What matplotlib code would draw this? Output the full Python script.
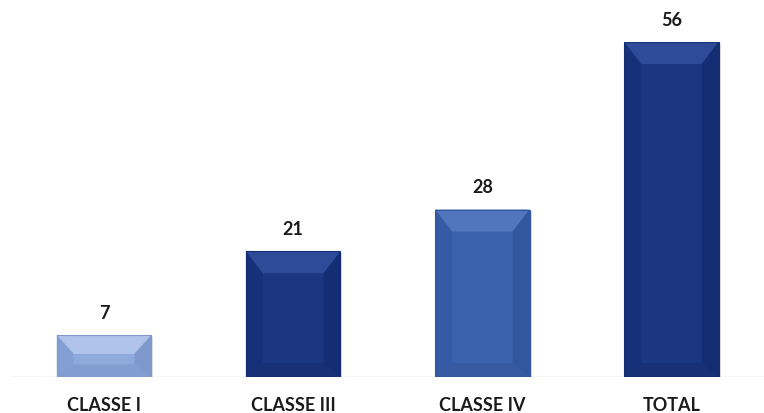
import matplotlib.pyplot as plt
from matplotlib.patches import Polygon

categories = ['CLASSE I', 'CLASSE III', 'CLASSE IV', 'TOTAL']
values = [7, 21, 28, 56]

# (face, top bevel, side bevel, bottom bevel)
palettes = [
    ('#8EA9DB', '#AFC4E8', '#7D99CE', '#819DD2'),
    ('#1C3781', '#2D4B98', '#152D72', '#183076'),
    ('#3B63AD', '#5077BD', '#3157A0', '#3659A2'),
    ('#1C3781', '#2D4B98', '#152D72', '#183076'),
]

W, H, DPI = 764, 414, 100
fig = plt.figure(figsize=(W / DPI, H / DPI), dpi=DPI)
# axes in pixel terms: baseline at y=378, top of 56 at y=43
left_px, right_px = 9.5, 766
base_px, top_px = 378, 43
ax = fig.add_axes([left_px / W, 1 - base_px / H, (right_px - left_px) / W, (base_px - top_px) / H])
ax.set_xlim(-0.5, 3.5)
ax.set_ylim(0, 56)
ax.axis('off')

bar_w = 0.5
x = list(range(len(categories)))

# data units per pixel
px_x = 4.0 / (right_px - left_px)
px_y = 56.0 / (base_px - top_px)

# faint drop shadow
for xi, v in zip(x, values):
    ax.bar(xi + 2 * px_x, v, width=bar_w, bottom=-2 * px_y, color='#000000', alpha=0.12, zorder=1)

bars = ax.bar(x, values, width=bar_w, color=[p[0] for p in palettes], zorder=2)

for b, pal in zip(bars, palettes):
    x0, y0 = b.get_x(), b.get_y()
    x1, y1 = x0 + b.get_width(), y0 + b.get_height()
    bx = 17 * px_x
    by = min(22 * px_y, b.get_height() * 0.45)
    bby = min(14 * px_y, b.get_height() * 0.3)
    # top bevel
    ax.add_patch(Polygon([(x0, y1), (x1, y1), (x1 - bx, y1 - by), (x0 + bx, y1 - by)],
                         closed=True, facecolor=pal[1], edgecolor='none', zorder=3))
    # bottom bevel
    ax.add_patch(Polygon([(x0, y0), (x1, y0), (x1 - bx, y0 + bby), (x0 + bx, y0 + bby)],
                         closed=True, facecolor=pal[3], edgecolor='none', zorder=3))
    # right bevel
    ax.add_patch(Polygon([(x1, y1), (x1, y0), (x1 - bx, y0 + bby), (x1 - bx, y1 - by)],
                         closed=True, facecolor=pal[2], edgecolor='none', zorder=3))
    # left bevel
    ax.add_patch(Polygon([(x0, y1), (x0, y0), (x0 + bx, y0 + bby), (x0 + bx, y1 - by)],
                         closed=True, facecolor=pal[2], edgecolor='none', alpha=0.6, zorder=3))
    # thin outline
    ax.add_patch(Polygon([(x0, y0), (x1, y0), (x1, y1), (x0, y1)], closed=True,
                         facecolor='none', edgecolor=pal[2], lw=0.8, zorder=4))

    ax.annotate(f'{int(b.get_height())}', (b.get_x() + b.get_width() / 2, y1),
                xytext=(0, 16.5), textcoords='offset points', ha='center', va='center',
                fontsize=13, fontweight='bold', family='Lato', color='#1a1a1a')

# baseline
ax.axhline(0, color='#D9D9D9', lw=1.0, zorder=0)

for xi, lab in zip(x, categories):
    ax.annotate(lab, (xi, 0), xytext=(0, -19.5), textcoords='offset points',
                ha='center', va='center', fontsize=13, fontweight='bold',
                family='Lato', color='#1a1a1a', annotation_clip=False)

fig.savefig('out.png', dpi=DPI)
